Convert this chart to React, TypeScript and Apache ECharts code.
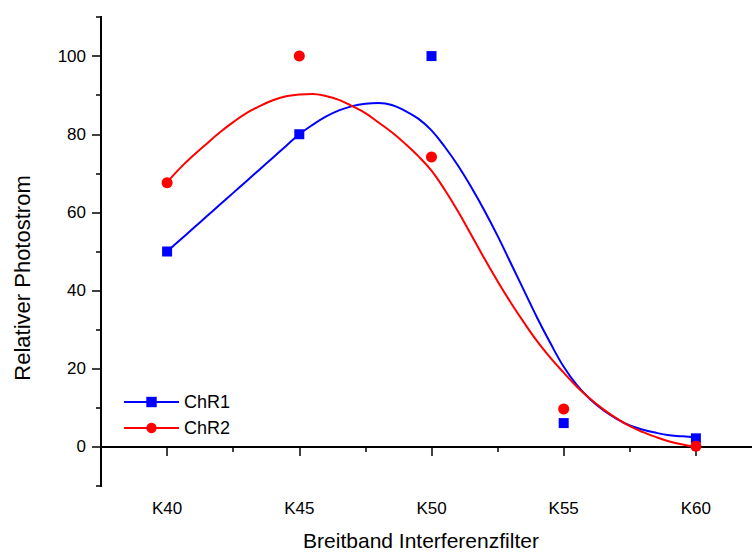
import React, { useEffect, useRef } from "react";
import * as echarts from "echarts";

const categories = ["K40", "K45", "K50", "K55", "K60"];
const chr1 = [50, 80, 100, 6.1, 2.2];
const chr2 = [67.6, 100, 74.2, 9.7, 0.2];

const curveX = [40, 40.5, 41, 41.5, 42, 42.5, 43, 43.5, 44, 44.5, 45, 45.5, 46, 46.5, 47, 47.5, 48, 48.5, 49, 49.5, 50, 50.5, 51, 51.5, 52, 52.5, 53, 53.5, 54, 54.5, 55, 55.5, 56, 56.5, 57, 57.5, 58, 58.5, 59, 59.5, 60];
const fit1 = [50, 53, 56, 59, 62, 65, 68, 71, 74, 77, 80, 82.4, 84.5, 86.1, 87.2, 87.8, 88, 87.5, 86, 84, 81, 76.8, 72, 66.5, 60.5, 54, 47, 40, 33, 26.5, 20.5, 15.8, 12.2, 9.4, 7.2, 5.5, 4.4, 3.6, 3.0, 2.7, 2.5];
const fit2 = [67.7, 71.4, 74.6, 77.6, 80.5, 83.1, 85.4, 87.2, 88.7, 89.7, 90.2, 90.3, 89.8, 88.8, 87.2, 85.4, 83, 80.5, 77.6, 74.4, 70.7, 65.8, 60.3, 54.3, 48.2, 42.4, 36.9, 31.8, 27, 22.8, 19, 15.4, 12.3, 9.6, 7.3, 5.3, 3.8, 2.5, 1.4, 0.6, 0];

const yLabelValues = [0, 20, 40, 60, 80, 100];
const yMinorValues = [-10, 10, 30, 50, 70, 90, 110];
const xMinorValues = [37.5, 42.5, 47.5, 52.5, 57.5, 62.5];
const xTitle = "Breitband Interferenzfilter";
const yTitle = "Relativer Photostrom";

const FONT = "'Liberation Sans', Arial, sans-serif";

export default function App() {
  const ref = useRef<HTMLDivElement>(null);
  useEffect(() => {
    if (!ref.current) return;
    const chart = echarts.init(ref.current, null, { renderer: "svg" });
    const xPos = categories.map((c) => parseFloat(c.slice(1)));
    const axisLine = { show: true, lineStyle: { color: "#000", width: 2 } };
    chart.setOption({
      animation: false,
      backgroundColor: "#fff",
      textStyle: { fontFamily: FONT },
      grid: { left: 101, right: -10, top: 17, bottom: 66, outerBoundsMode: "none", containLabel: false },
      legend: {
        orient: "vertical",
        left: 118,
        top: 388,
        itemWidth: 55,
        itemHeight: 13,
        itemGap: 8,
        data: ["ChR1", "ChR2"],
        textStyle: { fontSize: 18, color: "#000", fontFamily: FONT },
      },
      graphic: [
        {
          type: "text",
          x: 421,
          y: 540,
          style: {
            text: xTitle,
            fontSize: 21,
            fontFamily: FONT,
            fill: "#000",
            align: "center",
            verticalAlign: "middle",
          },
        },
        {
          type: "text",
          x: 22,
          y: 278,
          rotation: Math.PI / 2,
          style: {
            text: yTitle,
            fontSize: 22,
            fontFamily: FONT,
            fill: "#000",
            align: "center",
            verticalAlign: "middle",
          },
        },
      ],
      xAxis: [
        {
          type: "value",
          min: 37.5,
          max: 62.5,
          axisLine,
          splitLine: { show: false },
          axisTick: {
            show: true,
            customValues: xPos,
            length: 9,
            lineStyle: { color: "#000", width: 1.5 },
          },
          axisLabel: {
            customValues: xPos,
            formatter: (v: number) => categories[xPos.indexOf(v)] ?? "",
            fontSize: 17,
            color: "#000",
            margin: 14,
            fontFamily: FONT,
          },
        },
        {
          type: "value",
          min: 37.5,
          max: 62.5,
          position: "bottom",
          axisLine,
          splitLine: { show: false },
          axisTick: {
            show: true,
            customValues: xMinorValues,
            length: 5,
            lineStyle: { color: "#000", width: 1.5 },
          },
          axisLabel: { show: false },
        },
      ],
      yAxis: [
        {
          type: "value",
          min: -10,
          max: 110,
          axisLine,
          splitLine: { show: false },
          axisTick: {
            show: true,
            customValues: yLabelValues,
            length: 9,
            lineStyle: { color: "#000", width: 1.5 },
          },
          axisLabel: {
            customValues: yLabelValues,
            fontSize: 17,
            color: "#000",
            margin: 15,
            fontFamily: FONT,
          },
        },
        {
          type: "value",
          min: -10,
          max: 110,
          position: "left",
          axisLine,
          splitLine: { show: false },
          axisTick: {
            show: true,
            customValues: yMinorValues,
            length: 5,
            lineStyle: { color: "#000", width: 1.5 },
          },
          axisLabel: { show: false },
        },
      ],
      series: [
        {
          name: "ChR1",
          type: "line",
          data: curveX.map((x, i) => [x, fit1[i]]),
          smooth: 0.4,
          showSymbol: false,
          symbol: "rect",
          symbolSize: 10,
          lineStyle: { color: "#0000ff", width: 2 },
          itemStyle: { color: "#0000ff" },
          z: 2,
        },
        {
          name: "ChR2",
          type: "line",
          data: curveX.map((x, i) => [x, fit2[i]]),
          smooth: 0.4,
          showSymbol: false,
          symbol: "circle",
          symbolSize: 11,
          lineStyle: { color: "#ff0000", width: 2 },
          itemStyle: { color: "#ff0000" },
          z: 3,
        },
        {
          name: "ChR1",
          type: "scatter",
          data: xPos.map((x, i) => [x, chr1[i]]),
          symbol: "rect",
          symbolSize: 10,
          itemStyle: { color: "#0000ff", opacity: 1 },
          z: 4,
        },
        {
          name: "ChR2",
          type: "scatter",
          data: xPos.map((x, i) => [x, chr2[i]]),
          symbol: "circle",
          symbolSize: 11,
          itemStyle: { color: "#ff0000", opacity: 1 },
          z: 5,
        },
      ],
    });
    return () => chart.dispose();
  }, []);
  return (
    <div
      ref={ref}
      style={{ position: "absolute", left: 0, top: 0, width: 752, height: 552 }}
    />
  );
}
